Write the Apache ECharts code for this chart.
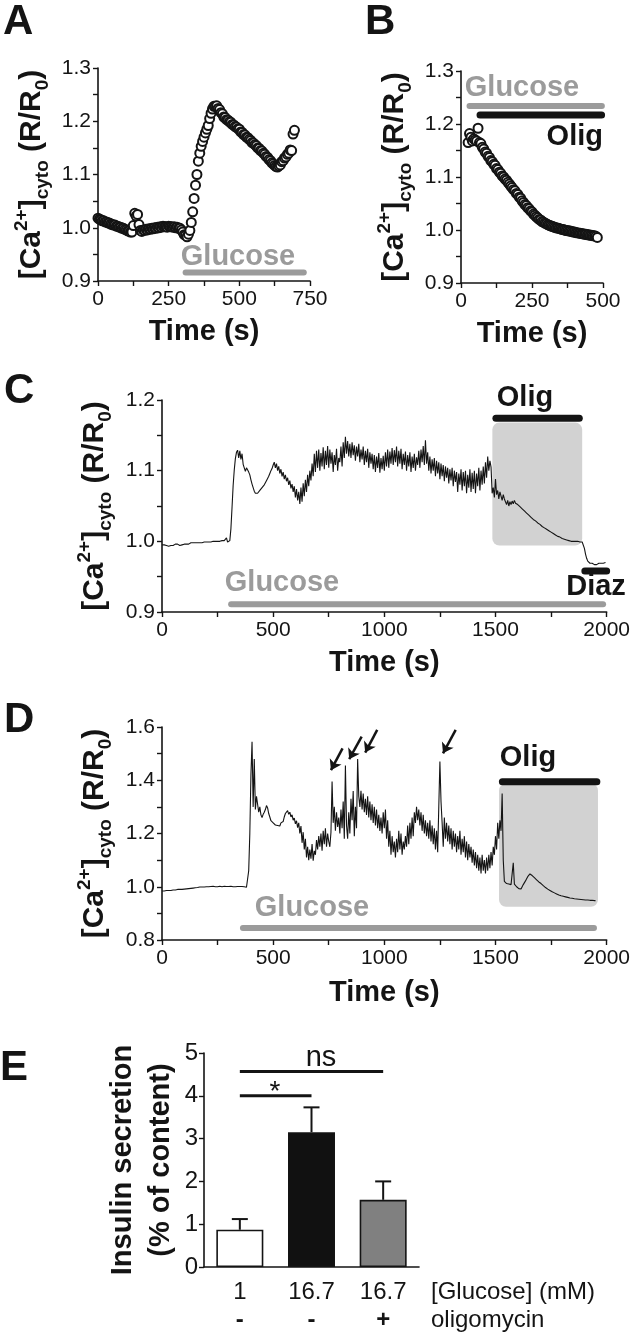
<!DOCTYPE html>
<html>
<head>
<meta charset="utf-8">
<script src="https://cdn.jsdelivr.net/npm/echarts@6/dist/echarts.min.js"></script>
<style>
html,body{margin:0;padding:0;background:#fff;}
#chart{width:633px;height:1337px;}
</style>
</head>
<body>
<div id="chart"></div>
<script>
// ---------------- DATA ----------------
// Panel A: [Ca2+]cyto ratio, sampled every 5 s from t = 0
const aStart = 0, aStep = 5;
const aRatio = [
1.018,1.016,1.015,1.013,1.013,1.011,1.011,1.009,1.009,1.007,
1.006,1.005,1.005,1.003,1.003,1.001,1.001,0.999,0.999,0.997,
0.996,0.994,0.994,0.992,0.992,1.004,1.027,1.022,1.025,1.006,
0.995,0.993,0.996,0.995,0.997,0.996,0.998,0.997,0.999,0.998,
1.000,0.999,1.001,1.000,1.002,1.001,1.003,1.002,1.002,1.001,
1.003,1.002,1.002,1.001,1.002,1.000,1.001,0.999,0.999,0.996,
0.992,0.987,0.986,0.983,0.988,0.995,1.010,1.030,1.055,1.080,
1.100,1.125,1.140,1.153,1.162,1.170,1.178,1.185,1.192,1.205,
1.215,1.223,1.228,1.228,1.229,1.224,1.222,1.216,1.214,1.208,
1.207,1.203,1.202,1.199,1.198,1.194,1.193,1.190,1.189,1.186,
1.185,1.180,1.179,1.175,1.174,1.170,1.169,1.166,1.164,1.160,
1.159,1.156,1.154,1.150,1.149,1.145,1.144,1.140,1.138,1.134,
1.132,1.128,1.126,1.122,1.120,1.117,1.115,1.114,1.116,1.118,
1.124,1.126,1.131,1.133,1.138,1.140,1.146,1.145,1.176,1.183
];
// Panel B: sampled every 5 s from t = 25
const bStart = 25, bStep = 5;
const bRatio = [
1.165,1.182,1.175,1.168,1.172,1.170,1.168,1.192,1.165,1.163,
1.156,1.153,1.147,1.145,1.139,1.137,1.131,1.129,1.124,1.122,
1.116,1.114,1.109,1.107,1.102,1.100,1.096,1.094,1.090,1.087,
1.083,1.080,1.076,1.074,1.069,1.067,1.062,1.060,1.055,1.052,
1.048,1.046,1.042,1.040,1.036,1.034,1.030,1.028,1.025,1.023,
1.020,1.019,1.016,1.015,1.013,1.012,1.010,1.009,1.008,1.007,
1.006,1.005,1.004,1.004,1.003,1.002,1.001,1.001,1.000,0.999,
0.999,0.998,0.998,0.997,0.996,0.996,0.995,0.995,0.994,0.994,
0.993,0.993,0.992,0.992,0.991,0.991,0.990,0.990,0.989,0.989,
0.988,0.986
];
// Panel C: sampled every 5 s from t = 0
const cStart = 0, cStep = 5;
const cRatio = [
0.995,0.994,0.995,0.993,0.994,0.994,0.993,0.995,0.994,0.995,
0.994,0.995,0.996,0.995,0.996,0.995,0.994,0.996,0.995,0.996,
0.996,0.997,0.996,0.997,0.996,0.997,0.998,0.997,0.998,0.997,
0.998,0.997,0.998,0.999,0.998,0.999,0.998,0.999,0.999,0.998,
0.999,1.000,0.999,1.000,0.999,1.000,1.000,0.999,1.000,1.001,
1.000,1.001,1.000,1.000,1.001,1.000,1.001,1.000,1.005,0.999,
0.997,1.001,1.018,1.048,1.079,1.101,1.117,1.126,1.129,1.118,
1.128,1.116,1.124,1.109,1.104,1.099,1.104,1.103,1.098,1.094,
1.087,1.081,1.076,1.071,1.068,1.067,1.068,1.070,1.072,1.074,
1.076,1.078,1.080,1.083,1.085,1.089,1.092,1.096,1.100,1.103,
1.108,1.112,1.104,1.110,1.100,1.106,1.096,1.102,1.092,1.098,
1.088,1.094,1.085,1.090,1.080,1.086,1.075,1.081,1.070,1.078,
1.062,1.074,1.058,1.070,1.053,1.076,1.056,1.082,1.064,1.087,
1.070,1.094,1.078,1.100,1.086,1.110,1.092,1.124,1.098,1.128,
1.104,1.130,1.100,1.125,1.106,1.133,1.102,1.128,1.108,1.135,
1.104,1.130,1.110,1.126,1.098,1.122,1.108,1.131,1.100,1.118,
1.112,1.134,1.106,1.140,1.118,1.148,1.124,1.142,1.120,1.138,
1.118,1.140,1.122,1.136,1.114,1.134,1.120,1.138,1.112,1.130,
1.116,1.134,1.108,1.128,1.112,1.131,1.104,1.126,1.110,1.124,
1.102,1.122,1.098,1.120,1.104,1.125,1.097,1.118,1.102,1.121,
1.100,1.126,1.106,1.130,1.104,1.127,1.110,1.132,1.108,1.129,
1.112,1.134,1.106,1.128,1.110,1.131,1.102,1.124,1.108,1.127,
1.100,1.122,1.106,1.126,1.098,1.120,1.104,1.124,1.100,1.119,
1.108,1.128,1.104,1.130,1.112,1.135,1.108,1.143,1.110,1.126,
1.100,1.120,1.096,1.116,1.100,1.118,1.092,1.114,1.096,1.112,
1.088,1.110,1.092,1.108,1.085,1.106,1.090,1.104,1.082,1.102,
1.086,1.104,1.078,1.100,1.084,1.098,1.070,1.096,1.080,1.102,
1.072,1.098,1.078,1.100,1.068,1.094,1.076,1.102,1.070,1.097,
1.074,1.100,1.068,1.096,1.078,1.104,1.072,1.100,1.080,1.106,
1.082,1.112,1.090,1.120,1.100,1.114,1.105,1.068,1.076,1.062,
1.088,1.066,1.072,1.060,1.070,1.064,1.058,1.066,1.060,1.062,
1.052,1.058,1.050,1.056,1.052,1.057,1.053,1.058,1.054,1.055,
1.052,1.050,1.049,1.047,1.046,1.044,1.043,1.041,1.040,1.039,
1.037,1.036,1.034,1.033,1.031,1.030,1.029,1.027,1.026,1.025,
1.024,1.022,1.021,1.020,1.019,1.018,1.017,1.016,1.015,1.014,
1.013,1.012,1.011,1.010,1.009,1.008,1.007,1.006,1.006,1.005,
1.004,1.003,1.003,1.002,1.002,1.001,1.001,1.000,1.000,1.000,
1.000,0.999,1.000,0.999,1.000,0.999,0.999,1.000,0.999,0.998,
0.990,0.982,0.976,0.972,0.970,0.969,0.968,0.969,0.968,0.967,
0.968,0.967,0.968,0.969,0.968,0.969,0.970,0.969,0.971,0.970
];
// Panel D: sampled every 5 s from t = 0
const dStart = 0, dStep = 5;
const dRatio = [
0.984,0.985,0.984,0.985,0.986,0.985,0.986,0.987,0.986,0.987,
0.988,0.987,0.988,0.989,0.990,0.989,0.990,0.991,0.990,0.992,
0.991,0.993,0.992,0.994,0.993,0.995,0.994,0.996,0.995,0.997,
0.996,0.998,0.997,0.998,0.999,0.998,0.999,1.000,0.999,1.000,
1.000,1.001,1.000,0.999,1.001,1.000,1.002,1.001,1.000,1.001,
1.000,1.001,1.002,1.001,1.000,1.001,1.002,1.000,1.001,1.000,
1.001,1.000,1.002,1.001,1.000,1.001,1.000,1.002,1.001,1.000,
1.001,1.000,1.001,0.999,1.000,0.999,0.998,1.000,1.060,1.200,
1.420,1.545,1.300,1.480,1.290,1.340,1.310,1.280,1.300,1.270,
1.260,1.272,1.280,1.290,1.305,1.296,1.275,1.262,1.248,1.244,
1.240,1.236,1.232,1.238,1.230,1.236,1.228,1.240,1.234,1.245,
1.262,1.275,1.268,1.286,1.272,1.280,1.262,1.270,1.250,1.258,
1.236,1.248,1.222,1.240,1.200,1.228,1.165,1.205,1.140,1.180,
1.110,1.150,1.100,1.140,1.105,1.160,1.098,1.135,1.120,1.175,
1.140,1.190,1.150,1.200,1.135,1.210,1.160,1.220,1.150,1.200,
1.170,1.150,1.205,1.395,1.240,1.300,1.210,1.280,1.225,1.260,
1.200,1.290,1.220,1.320,1.180,1.455,1.230,1.180,1.280,1.200,
1.330,1.250,1.360,1.190,1.300,1.220,1.480,1.340,1.300,1.360,
1.290,1.350,1.280,1.330,1.270,1.340,1.260,1.320,1.250,1.310,
1.240,1.300,1.230,1.290,1.220,1.270,1.210,1.260,1.200,1.280,
1.220,1.290,1.180,1.250,1.150,1.210,1.120,1.190,1.130,1.170,
1.110,1.180,1.130,1.210,1.140,1.200,1.120,1.170,1.140,1.190,
1.150,1.230,1.160,1.240,1.180,1.260,1.190,1.280,1.240,1.300,
1.250,1.290,1.230,1.280,1.210,1.270,1.200,1.250,1.190,1.240,
1.180,1.250,1.170,1.230,1.160,1.220,1.140,1.210,1.130,1.300,
1.470,1.320,1.240,1.150,1.260,1.180,1.240,1.170,1.230,1.160,
1.220,1.140,1.210,1.150,1.200,1.130,1.190,1.140,1.210,1.120,
1.180,1.130,1.190,1.110,1.170,1.100,1.160,1.110,1.150,1.090,
1.140,1.080,1.130,1.070,1.120,1.060,1.110,1.050,1.120,1.060,
1.100,1.050,1.110,1.060,1.120,1.070,1.130,1.080,1.150,1.120,
1.190,1.140,1.240,1.180,1.250,1.210,1.350,1.100,1.020,1.015,
1.012,1.018,1.010,1.015,1.008,1.012,1.090,1.010,1.005,1.000,
0.995,0.993,0.996,0.992,1.000,1.008,1.015,1.022,1.030,1.038,
1.044,1.048,1.046,1.042,1.038,1.034,1.030,1.026,1.022,1.018,
1.015,1.012,1.008,1.004,1.000,0.997,0.994,0.991,0.988,0.986,
0.984,0.981,0.979,0.977,0.975,0.973,0.971,0.969,0.968,0.966,
0.965,0.964,0.963,0.962,0.961,0.960,0.959,0.958,0.957,0.957,
0.956,0.955,0.955,0.954,0.953,0.953,0.952,0.952,0.951,0.951,
0.950,0.950,0.949,0.950,0.949,0.949,0.948,0.949,0.948,0.948,
0.948
];
// Treatment bars: [start s, end s, level]
const aGlucoseBar = [310, 728, 0.916];
const bGlucoseBar = [30, 496, 1.234];
const bOligBar = [67, 495, 1.217];
const cGlucoseBar = [311, 1984, 0.911];
const cOligBar = [1502, 1877, 1.174];
const cDiazBar = [1902, 2000, 0.958];
const dGlucoseBar = [364, 1943, 0.845];
const dOligBar = [1531, 1956, 1.394];
// Shaded oligomycin windows: [start s, end s, low, high]
const cOligBox = [1486, 1890, 0.994, 1.168];
const dOligBox = [1516, 1961, 0.925, 1.388];
// Arrows in D: [tail s, tail ratio, head s, head ratio]
const dArrows = [
  [812, 1.520, 760, 1.438],
  [898, 1.564, 842, 1.479],
  [968, 1.589, 914, 1.504],
  [1321, 1.589, 1264, 1.501]
];
// Panel E
const eGlucose = ['1', '16.7', '16.7'];
const eOligo = ['-', '-', '+'];
const eMean = [0.87, 3.15, 1.57];
const eSem = [0.25, 0.58, 0.43];
const eSigStar = [0, 1, 4.0];
const eSigNs = [0, 2, 4.57];

// ---------------- HELPERS ----------------
const FONT = '"Liberation Sans", Arial, sans-serif';
const INK = '#141414';
const GRAY = '#9b9b9b';
function pairs(start, step, vals) { return vals.map((v, i) => [start + i * step, v]); }
function barPts(b) { return [[b[0], b[2]], [b[1], b[2]]]; }

const caName = '[Ca{sup|2+}]{sub|cyto} (R/R{sub|0})';
function yAxisCa(grid, min, max, interval, gap, dec) {
  return {
    type: 'value', gridIndex: grid, min: min, max: max, interval: interval,
    name: caName, nameLocation: 'middle', nameRotate: 90, nameGap: gap,
    nameTextStyle: {
      fontFamily: FONT, fontSize: 30, fontWeight: 'bold', color: INK, lineHeight: 40,
      rich: {
        sup: { fontFamily: FONT, fontSize: 19, fontWeight: 'bold', color: INK, verticalAlign: 'top', lineHeight: 20 },
        sub: { fontFamily: FONT, fontSize: 19, fontWeight: 'bold', color: INK, verticalAlign: 'bottom', lineHeight: 20 }
      }
    },
    axisLine: { show: true, onZero: false, lineStyle: { color: INK, width: 1.6 } },
    axisTick: { show: true, length: 5, lineStyle: { color: INK, width: 1.4 } },
    minorTick: { show: true, splitNumber: 2, length: 5, lineStyle: { color: INK, width: 1.4 } },
    splitLine: { show: false },
    axisLabel: { fontFamily: FONT, fontSize: 21, color: INK, margin: 7, formatter: v => v.toFixed(dec) }
  };
}
function xAxisTime(grid, max, interval) {
  return {
    type: 'value', gridIndex: grid, min: 0, max: max, interval: interval,
    name: 'Time (s)', nameLocation: 'middle', nameGap: 36,
    nameTextStyle: { fontFamily: FONT, fontSize: 29, fontWeight: 'bold', color: INK },
    axisLine: { show: true, onZero: false, lineStyle: { color: INK, width: 1.6 } },
    axisTick: { show: true, length: 5, lineStyle: { color: INK, width: 1.4 } },
    minorTick: { show: true, splitNumber: 2, length: 5, lineStyle: { color: INK, width: 1.4 } },
    splitLine: { show: false },
    axisLabel: { fontFamily: FONT, fontSize: 21, color: INK, margin: 8, formatter: v => String(v) }
  };
}
function treatBar(idx, b, color, width) {
  return {
    type: 'line', xAxisIndex: idx, yAxisIndex: idx, data: barPts(b), symbol: 'none',
    clip: false, silent: true, z: 3,
    lineStyle: { color: color, width: width, cap: 'round' }
  };
}
function scatter(idx, data) {
  return {
    type: 'scatter', xAxisIndex: idx, yAxisIndex: idx, data: data, symbol: 'circle', symbolSize: 9,
    silent: true, z: 4,
    itemStyle: { color: '#fff', borderColor: INK, borderWidth: 2, opacity: 1 }
  };
}
function trace(idx, data) {
  return {
    type: 'line', xAxisIndex: idx, yAxisIndex: idx, data: data, symbol: 'none', silent: true, z: 4,
    lineStyle: { color: INK, width: 1.1 }
  };
}
function box(idx, b) {
  return {
    type: 'custom', xAxisIndex: idx, yAxisIndex: idx, silent: true, z: 1, clip: false,
    data: [b],
    renderItem: function (params, api) {
      const p0 = api.coord([api.value(0), api.value(3)]);
      const p1 = api.coord([api.value(1), api.value(2)]);
      return { type: 'rect', shape: { x: p0[0], y: p0[1], width: p1[0] - p0[0], height: p1[1] - p0[1], r: 7 },
               style: { fill: '#d2d2d2' } };
    }
  };
}
function txt(x, y, text, opts) {
  return {
    type: 'text', x: x, y: y, silent: true,
    style: Object.assign({ text: text, fill: INK, fontFamily: FONT, fontSize: 29, fontWeight: 'bold',
                           align: 'center', verticalAlign: 'middle' }, opts || {})
  };
}

// ---------------- OPTION ----------------
const option = {
  animation: false,
  backgroundColor: '#ffffff',
  grid: [
    { left: 98, top: 68, width: 212, height: 213 },
    { left: 461, top: 71, width: 142, height: 212 },
    { left: 162, top: 400, width: 445, height: 212 },
    { left: 162, top: 727, width: 445, height: 213 },
    { left: 204, top: 1053, width: 215, height: 214 }
  ],
  xAxis: [
    xAxisTime(0, 750, 250),
    xAxisTime(1, 500, 250),
    xAxisTime(2, 2000, 500),
    Object.assign(xAxisTime(3, 2000, 500), { nameGap: 38 }),
    {
      type: 'category', gridIndex: 4, data: eGlucose,
      name: '[Glucose] (mM)\noligomycin', nameLocation: 'end', nameGap: 12,
      nameTextStyle: { fontFamily: FONT, fontSize: 24, color: INK, align: 'left', verticalAlign: 'top',
                       lineHeight: 28, padding: [11, 0, 0, 0] },
      axisLine: { show: true, lineStyle: { color: INK, width: 1.6 } },
      axisTick: { show: false },
      axisLabel: {
        fontFamily: FONT, fontSize: 24, color: INK, margin: 11, lineHeight: 28,
        formatter: function (v, i) { return v + '\n{b|' + eOligo[i] + '}'; },
        rich: { b: { fontFamily: FONT, fontSize: 24, fontWeight: 'bold', color: INK, lineHeight: 28 } }
      }
    }
  ],
  yAxis: [
    yAxisCa(0, 0.9, 1.3, 0.1, 46, 1),
    yAxisCa(1, 0.9, 1.3, 0.1, 46, 1),
    yAxisCa(2, 0.9, 1.2, 0.1, 46, 1),
    yAxisCa(3, 0.8, 1.6, 0.2, 46, 1),
    {
      type: 'value', gridIndex: 4, min: 0, max: 5, interval: 1,
      name: 'Insulin secretion\n(% of content)', nameLocation: 'middle', nameRotate: 90, nameGap: 24,
      nameTextStyle: { fontFamily: FONT, fontSize: 29, fontWeight: 'bold', color: INK, lineHeight: 38 },
      axisLine: { show: true, lineStyle: { color: INK, width: 1.6 } },
      axisTick: { show: true, length: 5, lineStyle: { color: INK, width: 1.4 } },
      splitLine: { show: false },
      axisLabel: { fontFamily: FONT, fontSize: 24, color: INK, margin: 6 }
    }
  ],
  graphic: [
    txt(3, 22, 'A', { fontSize: 42, align: 'left' }),
    txt(365, 22, 'B', { fontSize: 42, align: 'left' }),
    txt(4, 391, 'C', { fontSize: 42, align: 'left' }),
    txt(4, 720, 'D', { fontSize: 42, align: 'left' }),
    txt(0, 1068, 'E', { fontSize: 42, align: 'left' }),
    txt(238, 257, 'Glucose', { fill: GRAY }),
    txt(522, 88, 'Glucose', { fill: GRAY }),
    txt(603, 137, 'Olig', { align: 'right' }),
    txt(525, 398, 'Olig'),
    txt(282, 583, 'Glucose', { fill: GRAY }),
    txt(596, 587, 'Diaz'),
    txt(528, 758, 'Olig'),
    txt(312, 908, 'Glucose', { fill: GRAY }),
    txt(275, 1092, '*', { fontSize: 28, fontWeight: 'normal' }),
    txt(321, 1058, 'ns', { fontSize: 29, fontWeight: 'normal' })
  ],
  series: [
    // A
    treatBar(0, aGlucoseBar, GRAY, 6),
    scatter(0, pairs(aStart, aStep, aRatio)),
    // B
    treatBar(1, bGlucoseBar, GRAY, 6),
    treatBar(1, bOligBar, INK, 7),
    scatter(1, pairs(bStart, bStep, bRatio)),
    // C
    box(2, cOligBox),
    treatBar(2, cGlucoseBar, GRAY, 6),
    treatBar(2, cOligBar, INK, 7),
    treatBar(2, cDiazBar, INK, 7),
    trace(2, pairs(cStart, cStep, cRatio)),
    // D
    box(3, dOligBox),
    treatBar(3, dGlucoseBar, GRAY, 6),
    treatBar(3, dOligBar, INK, 7),
    trace(3, pairs(dStart, dStep, dRatio)),
    {
      type: 'lines', coordinateSystem: 'cartesian2d', xAxisIndex: 3, yAxisIndex: 3, silent: true, z: 5,
      symbol: ['none', 'arrow'], symbolSize: 10,
      lineStyle: { color: INK, width: 2.5, opacity: 1 },
      data: dArrows.map(a => ({ coords: [[a[0], a[1]], [a[2], a[3]]] }))
    },
    // E
    {
      type: 'bar', xAxisIndex: 4, yAxisIndex: 4, barWidth: 47, silent: true, z: 2,
      data: eMean.map((v, i) => ({
        value: v,
        itemStyle: { color: ['#ffffff', '#111111', '#808080'][i], borderColor: INK, borderWidth: 1.6 }
      }))
    },
    {
      type: 'custom', xAxisIndex: 4, yAxisIndex: 4, silent: true, z: 1,
      data: eMean.map((v, i) => [i, v, v + eSem[i]]),
      renderItem: function (params, api) {
        const b = api.coord([api.value(0), api.value(1)]);
        const t = api.coord([api.value(0), api.value(2)]);
        const st = { stroke: INK, lineWidth: 2 };
        return { type: 'group', children: [
          { type: 'line', shape: { x1: b[0], y1: b[1], x2: t[0], y2: t[1] }, style: st },
          { type: 'line', shape: { x1: t[0] - 8, y1: t[1], x2: t[0] + 8, y2: t[1] }, style: st }
        ] };
      }
    },
    {
      type: 'line', xAxisIndex: 4, yAxisIndex: 4, symbol: 'none', silent: true, z: 3,
      data: [[eSigStar[0], eSigStar[2]], [eSigStar[1], eSigStar[2]]],
      lineStyle: { color: INK, width: 3 }
    },
    {
      type: 'line', xAxisIndex: 4, yAxisIndex: 4, symbol: 'none', silent: true, z: 3,
      data: [[eSigNs[0], eSigNs[2]], [eSigNs[1], eSigNs[2]]],
      lineStyle: { color: INK, width: 3 }
    }
  ]
};
const chart = echarts.init(document.getElementById('chart'), null, { renderer: 'canvas' });
chart.setOption(option);
</script>
</body>
</html>
